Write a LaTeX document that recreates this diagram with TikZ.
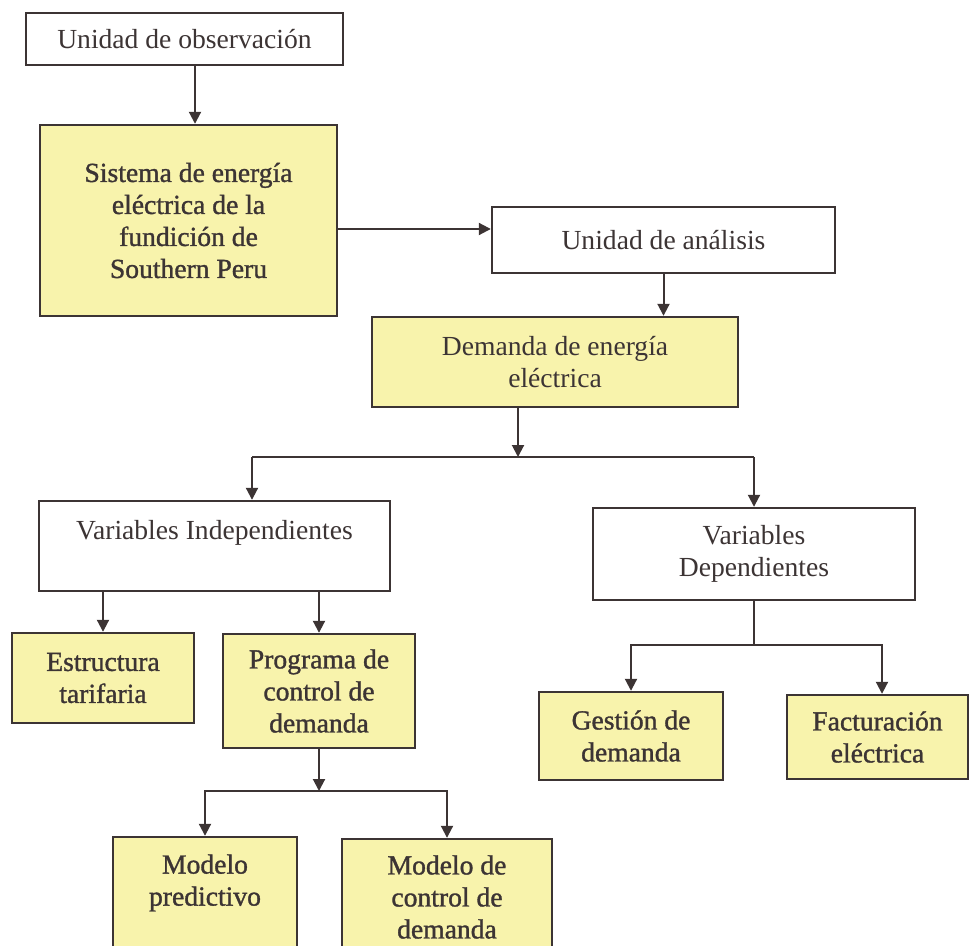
\documentclass[tikz,border=0pt]{standalone}
\usepackage{fontspec}
\setmainfont{Liberation Serif}
\newfontfamily\heavyfont[FakeBold=1.2]{Liberation Serif}
\usetikzlibrary{arrows.meta}
\definecolor{boxyellow}{RGB}{248,243,172}
\definecolor{inkgray}{RGB}{60,52,52}

\begin{document}
\begin{tikzpicture}[x=0.5pt,y=-0.5pt]
\tikzstyle{box}=[draw=inkgray,line width=1.2pt,fill=white,text=inkgray,align=center,inner sep=0pt,font=\fontsize{13.8}{16}\selectfont]
\tikzstyle{ybox}=[box,fill=boxyellow,font=\fontsize{13.8}{16}\selectfont\heavyfont]
\tikzstyle{line}=[draw=inkgray,line width=1pt]
\tikzstyle{link}=[line,-{Triangle[length=6pt,width=6pt]}]
\useasboundingbox (0,0) rectangle (973,946);
\node[box,minimum width=158.5pt,minimum height=26pt] (A) at (184.5,39) {Unidad de observación};
\node[ybox,minimum width=148.5pt,minimum height=95.5pt] (B) at (188.5,220.5) {Sistema de energía\\eléctrica de la\\fundición de\\Southern Peru};
\node[box,minimum width=171.5pt,minimum height=33pt] (C) at (663.5,240) {Unidad de análisis};
\node[box,fill=boxyellow,minimum width=183pt,minimum height=45pt] (D) at (555,362) {Demanda de energía\\eléctrica};
\node[box,minimum width=175.5pt,minimum height=45pt] (E) at (214.5,546) {Variables Independientes\\ \mbox{}};
\node[box,minimum width=161pt,minimum height=46pt] (F) at (754,554) {Variables\\Dependientes};
\node[ybox,minimum width=91pt,minimum height=45pt] (G) at (103,678) {Estructura\\tarifaria};
\node[ybox,minimum width=96pt,minimum height=57pt] (H) at (319,691) {Programa de\\control de\\demanda};
\node[ybox,minimum width=92pt,minimum height=44pt] (I) at (631,736) {Gestión de\\demanda};
\node[ybox,minimum width=90.5pt,minimum height=42pt] (J) at (877.5,737) {Facturación\\eléctrica};
\node[ybox,minimum width=92pt,minimum height=59pt] (K) at (205,896) {Modelo\\predictivo\\ \mbox{}};
\node[ybox,minimum width=105pt,minimum height=58pt] (L) at (447,897) {Modelo de\\control de\\demanda};
\coordinate (d1) at (518,457);
\coordinate (d2) at (252,457);
\coordinate (d3) at (754,457);
\coordinate (f1) at (754,645);
\coordinate (h1) at (319,791);
\draw[link] ([xshift=5.25pt]A.south) -- ([xshift=5.25pt]A.south |- B.north);
\draw[link] ([yshift=-4.25pt]B.east) -- ([yshift=-4.25pt]B.east -| C.west);
\draw[link] (C.south) -- (C.south |- D.north);
\draw[link] ([xshift=-18.5pt]D.south) -- (d1);
\draw[line] (d2) -- (d3);
\draw[link] (d2) -- (d2 |- E.north);
\draw[link] (d3) -- (F.north);
\draw[link] (G.north |- E.south) -- (G.north);
\draw[link] (H.north |- E.south) -- (H.north);
\draw[line] (F.south) -- (f1);
\draw[link] (f1) -| (I.north);
\draw[link] (f1) -| ([xshift=2.25pt]J.north);
\draw[link] (H.south) -- (h1);
\draw[link] (h1) -| (K.north);
\draw[link] (h1) -| (L.north);
\end{tikzpicture}
\end{document}
